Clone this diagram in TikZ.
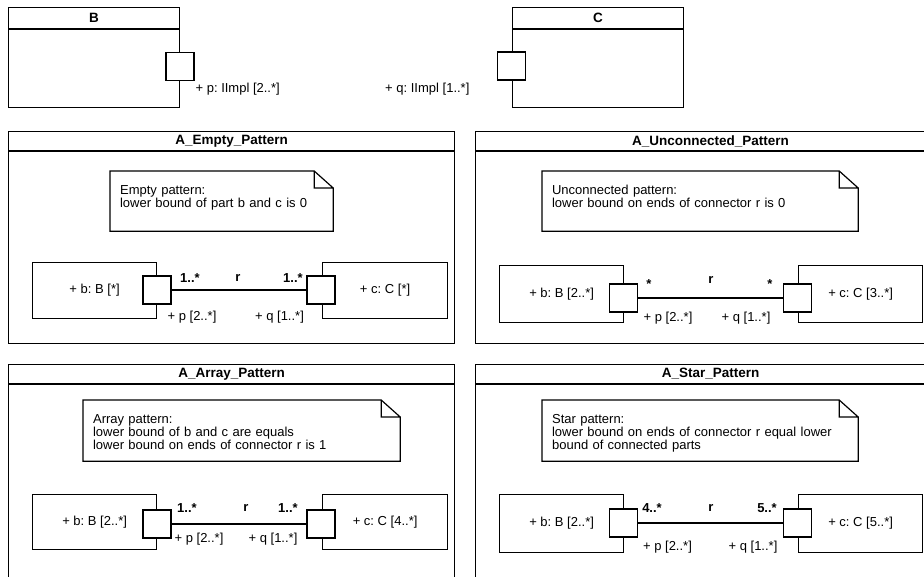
\documentclass[tikz,border=0pt]{standalone}
\usepackage{fontspec}
\setmainfont{Liberation Sans}
\usepackage{tikz}
\usetikzlibrary{positioning}
\frenchspacing

\begin{document}
\begin{tikzpicture}[x=1pt, y=-1pt, line width=1.2pt,
    every node/.style={font=\fontsize{13}{12}\selectfont, inner sep=0pt},
    box/.style={draw, rectangle, anchor=north west},
    port/.style={draw, rectangle, fill=white, minimum size=28pt},
    note/.style={rectangle, anchor=north west, align=left, inner xsep=9.5pt, inner ysep=0pt, text height=22.5pt},
    title/.style={font=\fontsize{13.5}{14}\selectfont\bfseries},
    mult/.style={font=\fontsize{13}{14}\selectfont\bfseries}]
        \clip (0,0) rectangle (924,576);
        \fill[white] (0,0) rectangle (924,576);

        % classes B and C
        \node[box, minimum width=171pt, minimum height=100pt] (B) at (8,7) {};
        \draw ([yshift=-22pt]B.north west) -- ([yshift=-22pt]B.north east);
        \node[title] at ([yshift=-11pt]B.north) {B};
        \node[port] (pB) at (180,66.5) {};
        \node[anchor=west] (lB) at (195,89) {+ p: IImpl [2..*]};

        \node[box, minimum width=171pt, minimum height=100pt] (C) at (512,7) {};
        \draw ([yshift=-22pt]C.north west) -- ([yshift=-22pt]C.north east);
        \node[title] at ([yshift=-11pt]C.north) {C};
        \node[port] (qC) at (511.5,66) {};
        \node[anchor=east] (lC) at (470,89) {+ q: IImpl [1..*]};

        % frames
        \node[box, minimum width=446pt, minimum height=212pt] (fE) at (8,131) {};
        \node[box, minimum width=470pt, minimum height=212pt] (fU) at (475,131) {};
        \node[box, minimum width=446pt, minimum height=236pt] (fA) at (8,364) {};
        \node[box, minimum width=470pt, minimum height=236pt] (fS) at (475,364) {};
        \foreach \f in {fE,fU,fA,fS}
            \draw ([yshift=-20pt]\f.north west) -- ([yshift=-20pt]\f.north east);
        \node[title] at ([yshift=-10pt]fE.north) {A\_Empty\_Pattern};
        \node[title] at ([yshift=-10pt]fU.north) {A\_Unconnected\_Pattern};
        \node[title] at ([yshift=-10pt]fA.north) {A\_Array\_Pattern};
        \node[title] at ([yshift=-10pt]fS.north) {A\_Star\_Pattern};

        % notes
        \node[note, text width=203pt, text depth=36.5pt] (nE) at (110,171)
            {Empty pattern:\\lower bound of part b and c is 0};
        \node[note, text width=296pt, text depth=36.5pt] (nU) at (542,171)
            {Unconnected pattern:\\lower bound on ends of connector r is 0};
        \node[note, text width=297pt, text depth=37.5pt] (nA) at (83,400)
            {Array pattern:\\lower bound of b and c are equals\\lower bound on ends of connector r is 1};
        \node[note, text width=296pt, text depth=37.5pt] (nS) at (542,400)
            {Star pattern:\\lower bound on ends of connector r equal lower\\bound of connected parts};
        \foreach \n in {nE,nU,nA,nS}
            \draw (\n.north west) -- ([xshift=-19pt]\n.north east) -- ([yshift=-17pt]\n.north east)
                -- (\n.south east) -- (\n.south west) -- cycle
                ([xshift=-19pt]\n.north east) |- ([yshift=-17pt]\n.north east);

        % parts
        \node[box, minimum width=124pt, minimum height=56pt] (bE) at (32,262) {+ b: B [*]};
        \node[box, minimum width=125pt, minimum height=56pt] (cE) at (322,262) {+ c: C [*]};
        \node[box, minimum width=124pt, minimum height=57pt] (bU) at (499,265) {+ b: B [2..*]};
        \node[box, minimum width=124pt, minimum height=57pt] (cU) at (798,265) {+ c: C [3..*]};
        \node[box, minimum width=124pt, minimum height=55pt] (bA) at (32,494) {+ b: B [2..*]};
        \node[box, minimum width=125pt, minimum height=55pt] (cA) at (322,494) {+ c: C [4..*]};
        \node[box, minimum width=124pt, minimum height=58pt] (bS) at (499,494) {+ b: B [2..*]};
        \node[box, minimum width=124pt, minimum height=58pt] (cS) at (798,494) {+ c: C [5..*]};

        % ports
        \node[port] (pE) at (157,290) {};
        \node[port] (qE) at (321,290) {};
        \node[port] (pU) at (623.5,298) {};
        \node[port] (qU) at (797.5,298) {};
        \node[port] (pA) at (157,524) {};
        \node[port] (qA) at (321,524) {};
        \node[port] (pS) at (623.5,523) {};
        \node[port] (qS) at (797.5,523) {};

        % connectors r
        \draw (pE) -- (qE); \draw (pU) -- (qU); \draw (pA) -- (qA); \draw (pS) -- (qS);

        \node[mult] at (190,278) {1..*}; \node[mult] at (238,278) {r}; \node[mult] at (293,278) {1..*};
        \node at (192,317) {+ p [2..*]}; \node at (279.5,317) {+ q [1..*]};

        \node[mult] at (649,284) {*}; \node[mult] at (711,280) {r}; \node[mult] at (770,284) {*};
        \node at (668,318) {+ p [2..*]}; \node at (746,318) {+ q [1..*]};

        \node[mult] at (187,508) {1..*}; \node[mult] at (246,508) {r}; \node[mult] at (288,508) {1..*};
        \node at (199,539) {+ p [2..*]}; \node at (273,539) {+ q [1..*]};

        \node[mult] at (652,508) {4..*}; \node[mult] at (711,508) {r}; \node[mult] at (767,508) {5..*};
        \node at (667.5,547) {+ p [2..*]}; \node at (753,547) {+ q [1..*]};
    \end{tikzpicture}
\end{document}
